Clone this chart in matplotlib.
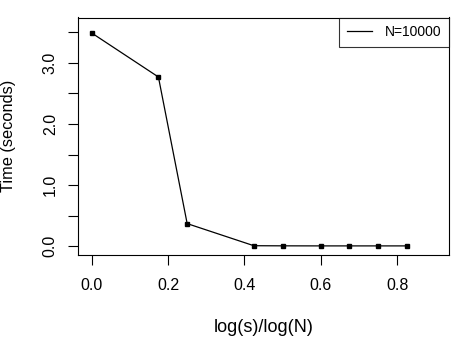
import matplotlib
matplotlib.use("Agg")
import matplotlib.pyplot as plt
import numpy as np

plt.rcParams['font.family'] = ['Liberation Sans', 'DejaVu Sans']

x_vals = [0.0, 0.1747, 0.25, 0.4247, 0.5, 0.5995, 0.6747, 0.75, 0.8253]
times = [3.49, 2.77, 0.37, 0.008, 0.006, 0.005, 0.005, 0.005, 0.005]
x_ticks = [0.0, 0.2, 0.4, 0.6, 0.8]
x_labels = ["0.0", "0.2", "0.4", "0.6", "0.8"]
y_ticks = [0.0, 0.5, 1.0, 1.5, 2.0, 2.5, 3.0, 3.5]
y_labels = ["0.0", "", "1.0", "", "2.0", "", "3.0", ""]
legend_label = "N=10000"

W, H = 452, 348
L, R, T, B = 78, 449, 17.5, 255
fig = plt.figure(figsize=(W/100, H/100), dpi=100)
ax = fig.add_axes([L/W, 1 - B/H, (R-L)/W, (B-T)/H])
ax.plot(x_vals, times, color='black', lw=0.9, marker='s', ms=2.6,
        mec='black', mfc='black', label=legend_label)
ax.set_xlim(-0.036, 0.936)
ax.set_ylim(-0.144, 3.744)
ax.set_xticks(x_ticks)
ax.set_xticklabels(x_labels, fontsize=11.5)
ax.set_yticks(y_ticks)
ax.set_yticklabels(y_labels, fontsize=11.5, rotation=90, va='center')
ax.tick_params(direction='out', length=7.5, width=0.8, color='black')
ax.tick_params(axis='x', pad=9)
ax.tick_params(axis='y', pad=7)
for s in ax.spines.values():
    s.set_linewidth(0.8)
ax.set_xlabel("log(s)/log(N)", fontsize=13)
ax.set_ylabel("Time (seconds)", fontsize=11.8)
ax.xaxis.set_label_coords((263.5 - L)/(R - L), (B - 327)/(B - T))
ax.xaxis.label.set_va('center')
ax.yaxis.set_label_coords((9 - L)/(R - L), 0.5)
ax.yaxis.label.set_va('center')
leg = ax.legend(loc='upper right', fontsize=10, frameon=True, fancybox=False,
                borderaxespad=0, handlelength=1.8, handletextpad=0.9,
                borderpad=0.56)
leg.get_frame().set_edgecolor('black')
leg.get_frame().set_linewidth(0.8)
for h in leg.legend_handles:
    h.set_marker('')
fig.savefig("out.png", dpi=100)
